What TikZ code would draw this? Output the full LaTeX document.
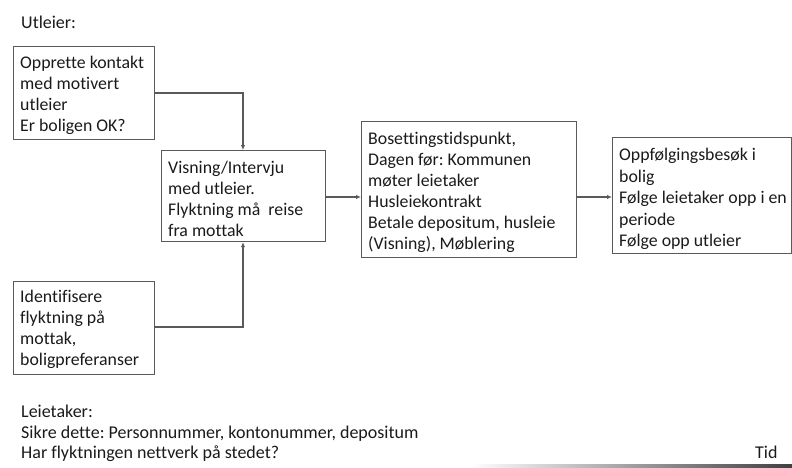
\documentclass[tikz,border=0pt]{standalone}
\usepackage{fontspec}
\setmainfont{Carlito}[Ligatures=NoCommon]
\usetikzlibrary{arrows.meta}
\definecolor{linegray}{HTML}{5A5A5A}
\definecolor{txt}{HTML}{1A1A1A}
\tikzset{
  box/.style={draw=linegray, line width=1.2pt, anchor=north west, inner sep=0pt},
  boxtext/.style={anchor=west, align=left, inner sep=0pt, text=txt,
    font={\fontsize{17.8}{21}\selectfont\frenchspacing}},
  plain/.style={anchor=west, inner sep=0pt, text=txt, align=left,
    font={\fontsize{18}{20.6}\selectfont\frenchspacing}},
  conn/.style={draw=linegray, line width=1.2pt, -{Latex[length=5pt,width=4.5pt]}},
}
\begin{document}
\begin{tikzpicture}[x=1pt,y=-1pt]
\useasboundingbox (0,0) rectangle (792,467);
\node[plain] (utl) at (21,22) {Utleier:};
\node[box, minimum width=141pt, minimum height=93pt] (b1) at (13,46) {};
\node[boxtext] (t1) at ([xshift=7pt,yshift=-2.5pt]b1.west)
  {Opprette kontakt\\med motivert\\utleier\\Er boligen OK?};
\node[box, minimum width=164pt, minimum height=91pt] (b2) at (161,150) {};
\node[boxtext] (t2) at ([xshift=7pt,yshift=-2.5pt]b2.west)
  {Visning/Intervju\\med utleier.\\Flyktning må\ \ reise\\fra mottak};
\node[box, minimum width=215pt, minimum height=136pt] (b3) at (361,121) {};
\node[boxtext] (t3) at ([xshift=7pt,yshift=-3pt]b3.west)
  {Bosettingstidspunkt,\\Dagen før: Kommunen\\møter leietaker\\Husleiekontrakt\\Betale depositum, husleie\\(Visning), Møblering};
\node[box, minimum width=179pt, minimum height=116pt] (b4) at (612,137) {};
\node[boxtext, font={\fontsize{17.8}{21.4}\selectfont\frenchspacing}] (t4) at ([xshift=7pt,yshift=-3.5pt]b4.west)
  {Oppfølgingsbesøk i\\bolig\\Følge leietaker opp i en\\periode\\Følge opp utleier};
\node[box, minimum width=141pt, minimum height=93pt] (b5) at (13,281) {};
\node[boxtext] (t5) at ([xshift=7pt,yshift=-1.5pt]b5.west)
  {Identifisere\\flyktning på\\mottak,\\boligpreferanser};
\node[plain, anchor=north west] (lt) at (21,405)
  {Leietaker:\\Sikre dette: Personnummer, kontonummer, depositum\\Har flyktningen nettverk på stedet?};
\node[plain] (tid) at (755,452) {Tid};
\shade[left color=white, right color=black!75] (470,464.5) rectangle (792,467);
\draw[conn] (b1.east |- 0,93) -| (243,0 |- b2.north);
\draw[conn] (b5.east |- 0,327) -| (243,0 |- b2.south);
\draw[conn] (b2.east |- 0,197) -- (b3.west |- 0,197);
\draw[conn] (b3.east |- 0,197) -- (b4.west |- 0,197);
\end{tikzpicture}
\end{document}
